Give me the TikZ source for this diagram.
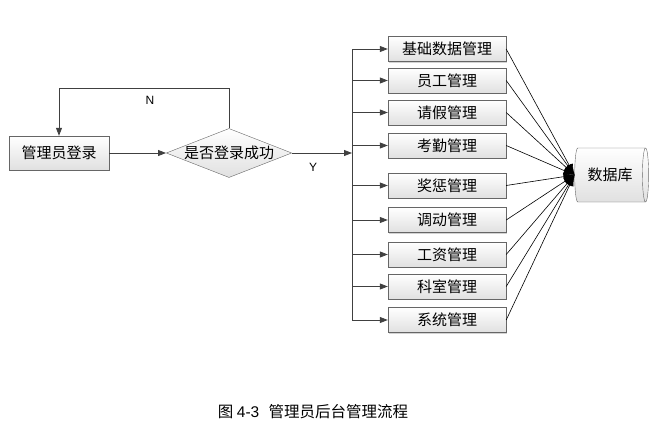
\documentclass[tikz,border=0pt]{standalone}
\usepackage{fontspec}
\setmainfont{Noto Sans CJK SC}
\newfontfamily\latinfont{Liberation Sans}
\usetikzlibrary{shapes.geometric,arrows.meta,shadows}
\begin{document}
\begin{tikzpicture}[x=1pt,y=-1pt,
  box/.style={draw=black!60, top color=white, bottom color=black!12, minimum width=118pt, minimum height=25pt, inner sep=0pt,
    font=\fontsize{15}{15}\selectfont, drop shadow={shadow xshift=1.2pt, shadow yshift=-1.2pt, opacity=0.35}},
  ln/.style={draw=black!75, line width=0.8pt},
  arr/.style={ln, -{Triangle[length=8pt,width=6pt]}},
  dbarr/.style={draw=black, line width=0.6pt, -{Latex[length=11pt,width=8pt]}},
  lbl/.style={font=\latinfont\fontsize{12}{12}\selectfont}]
\useasboundingbox (0,0) rectangle (659,431);

% main flow
\node[box, minimum width=100pt, minimum height=34pt] (login) at (59,153) {管理员登录};
\node[diamond, draw=black!60, top color=white, bottom color=black!12, aspect=2.56, inner sep=0pt,
  minimum width=123pt, minimum height=48pt, font=\fontsize{15}{15}\selectfont] (dec) at (229,153) {是否登录成功};
\coordinate (nrow) at (0,88);
\coordinate (bt) at (352,49);
\coordinate (bb) at (352,320);

\draw[arr] (login.east) -- (dec.west);
\draw[arr] (dec.north) -- (dec.north |- nrow) -| (login.north);
\node[lbl] (nl) at (150,100) {N};
\node[lbl] (yl) at (313,167) {Y};
\draw[arr] (dec.east) -- (dec.east -| bt);
\draw[ln] (bt) -- (bb);

% module boxes
\node[box] (b1) at (447,49) {基础数据管理};
\node[box] (b2) at (447,80.5) {员工管理};
\node[box] (b3) at (447,112.5) {请假管理};
\node[box] (b4) at (447,145.5) {考勤管理};
\node[box] (b5) at (447,185.5) {奖惩管理};
\node[box] (b6) at (447,220) {调动管理};
\node[box] (b7) at (447,254.5) {工资管理};
\node[box] (b8) at (447,286.5) {科室管理};
\node[box] (b9) at (447,320) {系统管理};

\foreach \b in {b1,b2,b3,b4,b5,b6,b7,b8,b9}{
  \draw[arr] (\b.west -| bt) -- (\b.west);
}

% database
\node[cylinder, draw=black!60, top color=white, bottom color=black!12, aspect=0.45,
  minimum width=54pt, minimum height=74pt, inner sep=0pt, font=\fontsize{15}{15}\selectfont] (db) at (610,175) {数据库};

\foreach \b in {b1,b2,b3,b4,b5,b6,b7,b8,b9}{
  \draw[dbarr] (\b.east) -- (db.west);
}

% caption
\node[font=\fontsize{15.5}{15.5}\selectfont] (cap) at (313,412) {图 {\latinfont 4-3}\hspace{0.6em}管理员后台管理流程};
\end{tikzpicture}
\end{document}
